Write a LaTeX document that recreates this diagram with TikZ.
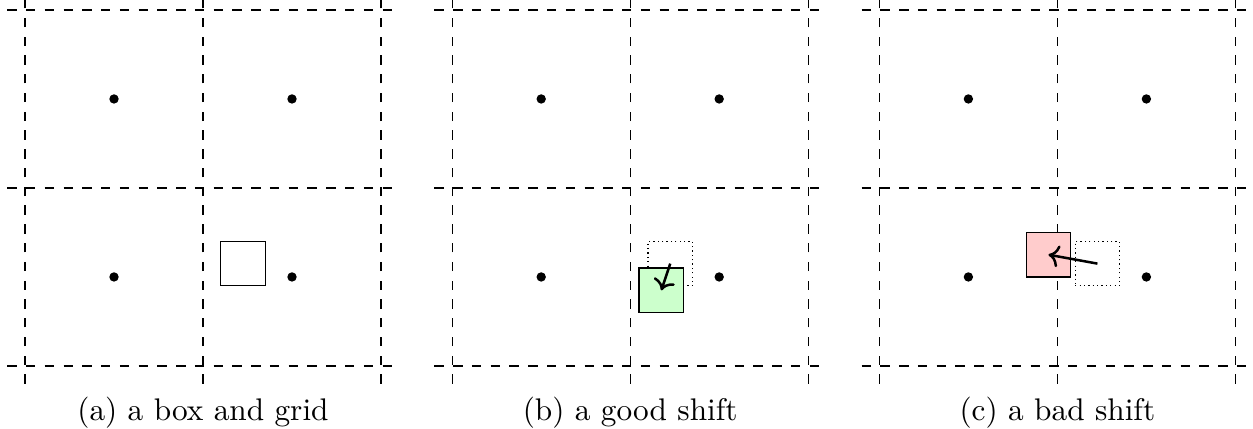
\documentclass[tikz,border=0pt]{standalone}
\usepackage{tikz}
\usetikzlibrary{arrows.meta}

\begin{document}
\begin{tikzpicture}[
    gridline/.style={dashed},
    site/.style={circle, fill=black, inner sep=0pt, minimum size=3pt},
    box/.style={rectangle, draw, inner sep=0pt, minimum size=0.5cm},
    ghost/.style={box, densely dotted},
    movearrow/.style={->, thick},
    caption/.style={anchor=base}
]
\useasboundingbox (-0.281,-0.708) rectangle (13.798,4.112);

% Dashed grid and cell centres, one copy per panel
\foreach \p/\x in {a/0, b/4.8, c/9.6} {
  \begin{scope}[xshift=\x cm]
    \foreach \v in {0,2,4} {
      \draw[gridline] (-0.2,\v) -- (4.2,\v);
      \draw[gridline] (\v,-0.2) -- (\v,4.2);
    }
    \node[site] (\p-dot-ll) at (1,1) {};
    \node[site] (\p-dot-lr) at (3,1) {};
    \node[site] (\p-dot-ul) at (1,3) {};
    \node[site] (\p-dot-ur) at (3,3) {};
  \end{scope}
}

% (a) the box on its own
\node[box] (box-a) at (2.45,1.15) {};
\node[caption] (cap-a) at (2,-0.612) {(a) a box and grid};

% (b) a good shift
\node[ghost] (old-b) at (7.25,1.15) {};
\node[box, fill=green!20] (new-b) at (7.15,0.85) {};
\draw[movearrow] (old-b.center) -- (new-b.center);
\node[caption] (cap-b) at (6.8,-0.612) {(b) a good shift};

% (c) a bad shift
\node[ghost] (old-c) at (12.05,1.15) {};
\node[box, fill=red!20] (new-c) at (11.5,1.25) {};
\draw[movearrow] (old-c.center) -- (new-c.center);
\node[caption] (cap-c) at (11.6,-0.612) {(c) a bad shift};

\end{tikzpicture}
\end{document}
